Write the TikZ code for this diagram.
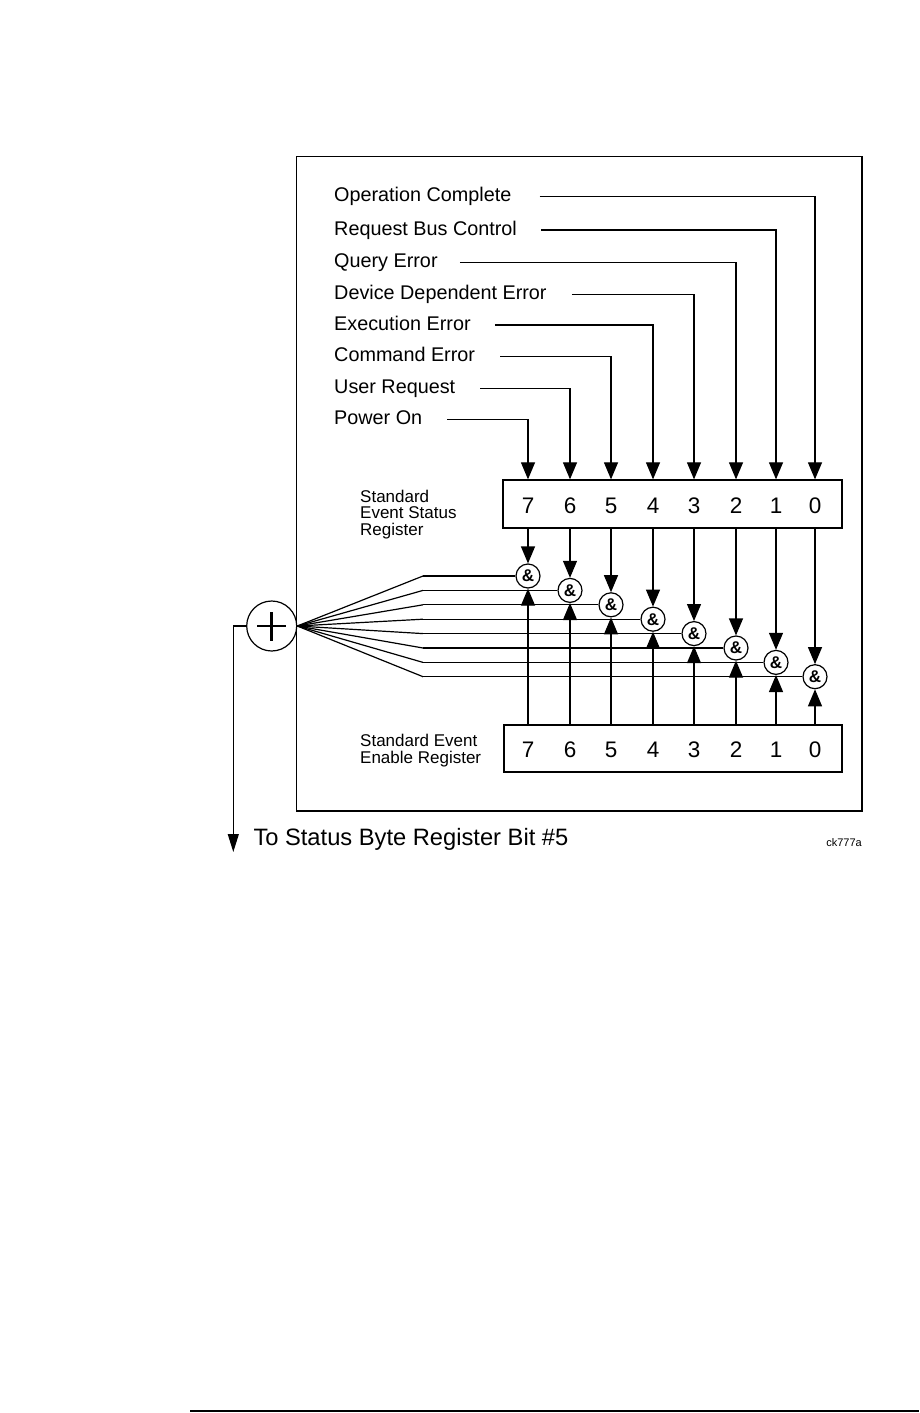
\documentclass[tikz,border=0pt]{standalone}
\usepackage{fontspec}
\setmainfont{Liberation Sans}
\usetikzlibrary{arrows.meta}
\begin{document}
\begin{tikzpicture}[x=1pt,y=-1pt,
  ln/.style={line width=1.2pt},
  arr/.style={ln,-{Triangle[length=17pt,width=14pt]}},
  outarr/.style={ln,-{Triangle[length=18pt,width=11pt]}},
  lbl/.style={anchor=west,inner xsep=0pt,inner ysep=0pt,text height=14pt,text depth=4pt,font=\fontsize{19.8}{24}\selectfont},
  reg/.style={draw,line width=1.3pt,inner sep=0pt},
  dig/.style={anchor=base,inner sep=0pt,font=\fontsize{22.5}{26}\selectfont},
  gate/.style={draw,circle,fill=white,ln,minimum size=24pt,inner sep=0pt,font=\fontsize{17}{17}\selectfont\bfseries},
  small/.style={anchor=base west,inner sep=0pt,align=left,font=\fontsize{17}{16.5}\selectfont}
]
\useasboundingbox (0,0) rectangle (919,1413);
\fill[white] (0,0) rectangle (919,1413);

% outer frame
\draw[line width=1.4pt] (296.5,156.5) rectangle (862,811);

% input labels
\node[lbl] (opc) at (334,196.7) {Operation Complete};
\node[lbl] (rbc) at (334,230) {Request Bus Control};
\node[lbl] (qye) at (334,262.7) {Query Error};
\node[lbl] (dde) at (334,294.3) {Device Dependent Error};
\node[lbl] (exe) at (334,325) {Execution Error};
\node[lbl] (cme) at (334,356.7) {Command Error};
\node[lbl] (urq) at (334,388.3) {User Request};
\node[lbl] (pon) at (334,419.3) {Power On};

% registers
\node[reg,minimum width=339pt,minimum height=48pt] (regA) at (672.5,504) {};
\node[reg,minimum width=338pt,minimum height=47pt] (regB) at (673,748.5) {};

\foreach \n/\x in {7/528,6/570,5/611,4/653,3/694,2/736,1/776,0/815}{
  \node[dig] (d\n) at (\x,513.3) {\n};
  \node[dig] (e\n) at (\x,757.7) {\n};
}

\node[small] (lblA) at (360,535) {Standard\\Event Status\\Register};
\node[small] (lblB) at (360,763.3) {Standard Event\\Enable Register};

% arrows into the status register
\draw[arr] ([xshift=28pt]opc.east) -| (d0 |- regA.north);
\draw[arr] ([xshift=24pt]rbc.east) -| (d1 |- regA.north);
\draw[arr] ([xshift=22pt]qye.east) -| (d2 |- regA.north);
\draw[arr] ([xshift=25pt]dde.east) -| (d3 |- regA.north);
\draw[arr] ([xshift=24pt]exe.east) -| (d4 |- regA.north);
\draw[arr] ([xshift=25pt]cme.east) -| (d5 |- regA.north);
\draw[arr] ([xshift=25pt]urq.east) -| (d6 |- regA.north);
\draw[arr] ([xshift=25pt]pon.east) -| (d7 |- regA.north);

% summing node
\node[draw,circle,ln,minimum size=50pt,inner sep=0pt] (plus) at (271.7,626) {};
\draw[line width=2.8pt] ([xshift=-14.5pt]plus.center) -- ([xshift=14.5pt]plus.center);
\draw[line width=2.8pt] ([yshift=-14.5pt]plus.center) -- ([yshift=14.5pt]plus.center);

% AND gates
\foreach \n/\x/\y in {7/528/576,6/570/590.4,5/611/604.8,4/653/619.2,3/694/633.6,2/736/648,1/776/662.4,0/815/676.7}{
  \coordinate (f\n) at (423,\y);
  \draw[ln] (plus.east) -- (f\n);
  \node[gate] (g\n) at (\x,\y) {\&};
  \draw[ln] (f\n) -- (g\n);
}
\foreach \n in {7,6,5,4,3,2,1,0}{
  \draw[arr] (d\n |- regA.south) -- (g\n);
  \draw[arr] (e\n |- regB.north) -- (g\n);
}

% output
\coordinate (out) at (233.3,852);
\draw[outarr] (plus.west) -| (out);
\node[anchor=base west,inner sep=0pt,font=\fontsize{23.7}{26}\selectfont] (outlbl) at (253.3,845) {To Status Byte Register Bit \#5};
\node[anchor=base east,inner sep=0pt,font=\fontsize{11}{12}\selectfont] (ck) at (862,846.7) {ck777a};

% page rule
\draw[line width=2.5pt] (190,1411) -- (919,1411);
\end{tikzpicture}
\end{document}
